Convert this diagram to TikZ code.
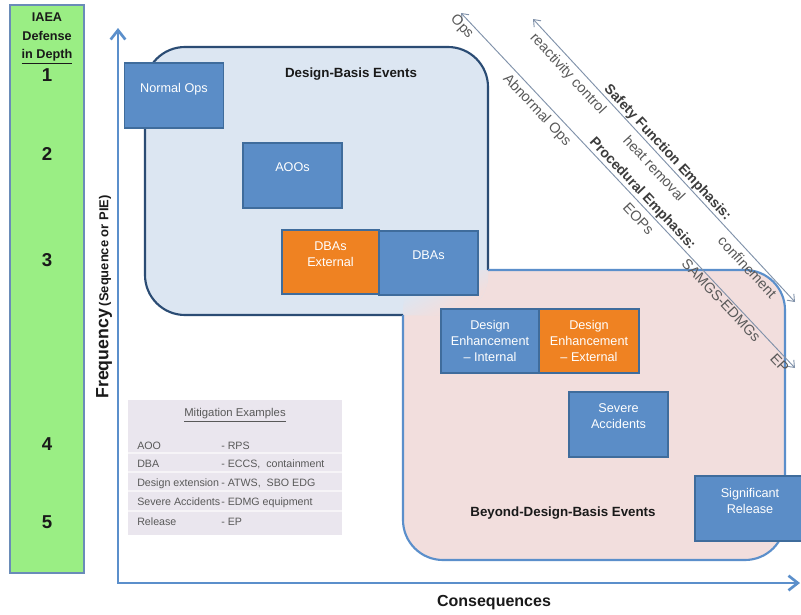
\documentclass[tikz,border=0pt]{standalone}
\usepackage{fontspec}
\setmainfont{Liberation Sans}
\usetikzlibrary{arrows.meta}
\definecolor{greenfill}{HTML}{9AEE84}
\definecolor{greenborder}{HTML}{6A8CB8}
\definecolor{axisblue}{HTML}{5B8FCB}
\definecolor{dbfill}{HTML}{DCE6F2}
\definecolor{dbborder}{HTML}{2B4C74}
\definecolor{bdbfill}{HTML}{F2DEDD}
\definecolor{bdbborder}{HTML}{5B8FCB}
\definecolor{boxblue}{HTML}{5B8DC7}
\definecolor{boxborder}{HTML}{3F6C9C}
\definecolor{boxorange}{HTML}{EF8222}
\definecolor{tablefill}{HTML}{EAE6EE}
\definecolor{arrowgray}{HTML}{8192AA}
\definecolor{textgray}{HTML}{595959}
\definecolor{darktext}{HTML}{1A1A1A}
\pgfdeclareverticalshading{ovlshade}{100bp}{color(0bp)=(bdbfill); color(38bp)=(bdbfill); color(62bp)=(dbfill); color(100bp)=(dbfill)}
\begin{document}
\begin{tikzpicture}[x=0.75pt,y=-0.75pt,
  hdr/.style={font=\fontsize{9.5}{11}\selectfont\bfseries, text=darktext, inner sep=0pt},
  num/.style={font=\fontsize{14}{16}\selectfont\bfseries, text=darktext, inner sep=0pt},
  axis/.style={draw=axisblue, line width=2pt, {Straight Barb[length=7pt,width=11pt]}-{Straight Barb[length=7pt,width=11pt]}},
  evbox/.style={draw=boxborder, line width=1.2pt, fill=boxblue, text=white, minimum width=74pt, minimum height=48.75pt, align=center, inner sep=1pt, font=\fontsize{9.5}{12}\selectfont},
  evorange/.style={evbox, fill=boxorange},
  regtitle/.style={font=\fontsize{10}{12}\selectfont\bfseries, text=darktext},
  tab/.style={font=\fontsize{8}{10}\selectfont, text=textgray, inner sep=0pt, anchor=base west},
  diag/.style={draw=arrowgray, line width=0.7pt, {Straight Barb[length=4.5pt,width=7pt]}-{Straight Barb[length=4.5pt,width=7pt]}},
  lbl/.style={font=\fontsize{10.8}{12}\selectfont, text=textgray, sloped},
  blbl/.style={font=\fontsize{10.5}{12}\selectfont\bfseries, text=darktext!85!white, sloped}
]
\useasboundingbox (0,0) rectangle (801,615);
\fill[white] (0,0) rectangle (801,615);

% IAEA defense in depth bar
\node[draw=greenborder, line width=1.5pt, fill=greenfill, minimum width=55.5pt, minimum height=426pt, inner sep=0pt] (bar) at (47,289) {};
\node[hdr, anchor=base] (t1) at (47,21.5) {IAEA};
\node[hdr, anchor=base] (t2) at (47,40.5) {Defense};
\node[hdr, anchor=base] (t3) at (47,58.5) {\underline{in Depth}};
\node[num] (n1) at (47,75) {1};
\node[num] (n2) at (47,154) {2};
\node[num] (n3) at (47,260) {3};
\node[num] (n4) at (47,444) {4};
\node[num] (n5) at (47,522) {5};

% regions
\fill[bdbfill, rounded corners=30pt] (403,270) rectangle (785,560);
\fill[dbfill, rounded corners=30pt] (145,47) rectangle (488,315);
\begin{scope}
  \clip[rounded corners=30pt] (403,270) rectangle (785,560);
  \clip[rounded corners=30pt] (145,47) rectangle (488,315);
  \shade[shading=ovlshade, shading angle=28] (400,265) rectangle (492,320);
\end{scope}
\draw[dbborder, line width=1.6pt, rounded corners=30pt] (403,315) -- (145,315) -- (145,47) -- (488,47) -- (488,270);
\draw[bdbborder, line width=1.6pt, rounded corners=30pt] (488,270) -- (785,270) -- (785,560) -- (403,560) -- (403,315);

% axes
\coordinate (ytop) at (118,28);
\coordinate (orig) at (118,583);
\coordinate (xend) at (800,583);
\draw[axis] (ytop) -- (orig) -- (xend);
\node[rotate=90, text=darktext, inner sep=0pt] (ylab) at (104,297) {\fontsize{13.3}{15}\selectfont\bfseries Frequency\,\fontsize{9.7}{11}\selectfont(Sequence or PIE)};
\node[font=\fontsize{12}{14}\selectfont\bfseries, text=darktext] (xlab) at (494,603) {Consequences};

% region titles
\node[regtitle] (dbe) at (351,74) {Design-Basis Events};
\node[regtitle] (bdbe) at (563,513) {Beyond-Design-Basis Events};

% event boxes
\node[evbox] (nops) at (174,95.5) {Normal Ops\\\mbox{}};
\node[evbox] (aoo) at (292.5,175.5) {AOOs\\\mbox{}};
\node[evorange, minimum width=72.75pt, minimum height=48pt] (dbaext) at (330.5,262) {DBAs\\External\\\mbox{}};
\node[evbox, minimum height=48pt] (dba) at (428.5,263) {DBAs\\\mbox{}};
\node[evbox, minimum width=73.5pt, minimum height=48pt] (dei) at (490,341) {Design\\Enhancement\\– Internal};
\node[evorange, minimum width=75pt, minimum height=48pt] (dee) at (589,341) {Design\\Enhancement\\– External};
\node[evbox] (sev) at (618.5,424.5) {Severe\\Accidents\\\mbox{}};
\node[evbox, minimum width=82.5pt] (sig) at (750,508.5) {Significant\\Release\\\mbox{}};

% mitigation examples table
\node[fill=tablefill, minimum width=160.5pt, minimum height=101.25pt, inner sep=0pt] (mit) at (235,467.5) {};
\draw[white!55!tablefill, line width=0.8pt] (128,453) -- (342,453);
\draw[white!55!tablefill, line width=0.8pt] (128,472) -- (342,472);
\draw[white!55!tablefill, line width=0.8pt] (128,491) -- (342,491);
\draw[white!55!tablefill, line width=0.8pt] (128,511) -- (342,511);
\node[font=\fontsize{8.5}{10}\selectfont, text=textgray] (mt) at (235,415) {\underline{Mitigation Examples}};
\node[tab] (r1a) at (137,449) {AOO};
\node[tab] (r1b) at (221,449) {- RPS};
\node[tab] (r2a) at (137,467) {DBA};
\node[tab] (r2b) at (221,467) {- ECCS, \ containment};
\node[tab] (r3a) at (137,486) {Design extension};
\node[tab] (r3b) at (221,486) {- ATWS, \ SBO EDG};
\node[tab] (r4a) at (137,505) {Severe Accidents};
\node[tab] (r4b) at (221,505) {- EDMG equipment};
\node[tab] (r5a) at (137,525) {Release};
\node[tab] (r5b) at (221,525) {- EP};

% emphasis arrows
\coordinate (a1s) at (461,13);
\coordinate (a1e) at (795,368);
\coordinate (a2s) at (533,19);
\coordinate (a2e) at (795,302);
\draw[diag] (a1s) -- (a1e)
  node[lbl, pos=0.022, below, inner sep=1.6pt] (l1) {Ops}
  node[lbl, pos=0.252, below, inner sep=3.2pt] (l2) {Abnormal Ops}
  node[lbl, pos=0.557, below, inner sep=4.5pt] (l3) {EOPs}
  node[lbl, pos=0.795, below, inner sep=1.2pt] (l4) {SAMGS-EDMGs}
  node[lbl, pos=0.971, below, inner sep=1.8pt] (l5) {EP}
  node[blbl, pos=0.525, above, inner sep=0.9pt] (l6) {Procedural Emphasis:};
\draw[diag] (a2s) -- (a2e)
  node[lbl, pos=0.166, below, inner sep=3.6pt] (m1) {reactivity control}
  node[lbl, pos=0.498, below, inner sep=4.9pt] (m2) {heat removal}
  node[lbl, pos=0.850, below, inner sep=4.1pt] (m3) {confinement}
  node[blbl, pos=0.491, above, inner sep=0.6pt] (m4) {Safety Function Emphasis:};
\end{tikzpicture}
\end{document}
